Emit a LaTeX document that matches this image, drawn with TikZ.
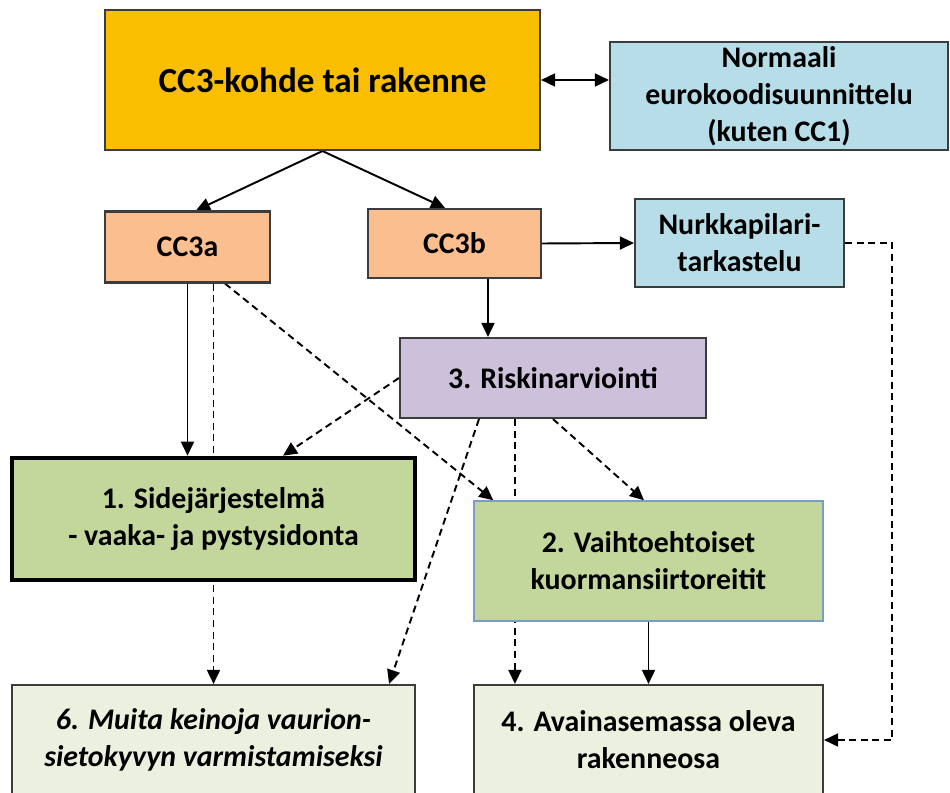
\documentclass[tikz,border=0pt]{standalone}
\usepackage{fontspec}
\setmainfont{Carlito}
\usepackage{tikz}
\usetikzlibrary{arrows.meta, positioning, backgrounds}
\definecolor{cckohde}{RGB}{250,190,0}
\definecolor{ccblue}{RGB}{183,222,232}
\definecolor{ccpeach}{RGB}{251,191,143}
\definecolor{cclilac}{RGB}{204,192,218}
\definecolor{ccgreen}{RGB}{195,214,155}
\definecolor{ccpale}{RGB}{235,241,222}
\definecolor{ccframe}{RGB}{60,60,60}
\definecolor{ccedge}{RGB}{120,158,200}

\begin{document}
\begin{tikzpicture}[
  >={Triangle[length=8pt,width=7.4pt]},
  box/.style={
    rectangle, draw=ccframe, line width=1.2pt,
    align=center, inner sep=0pt,
    font=\fontsize{17}{21}\selectfont\bfseries
  },
  arrow/.style={->, line width=1.1pt, black},
  dasharrow/.style={arrow, dash pattern=on 4pt off 2.6pt}
]
\useasboundingbox (0,0) rectangle (19,-15.86);

\node[box, fill=cckohde, minimum width=8.7cm, minimum height=2.8cm,
      font=\fontsize{20}{24}\selectfont\bfseries]
  (kohde) at (6.45,-1.6) {CC3-kohde tai rakenne};
\node[box, fill=ccblue, minimum width=6.76cm, minimum height=2.16cm]
  (norm) at (15.58,-1.92) {Normaali\\eurokoodisuunnittelu\\(kuten CC1)};

\node[box, fill=ccpeach, minimum width=3.3cm, minimum height=1.42cm]
  (cc3a) at (3.75,-4.94) {CC3a};
\node[box, fill=ccpeach, minimum width=3.46cm, minimum height=1.38cm]
  (cc3b) at (9.09,-4.87) {CC3b};
\node[box, fill=ccblue, minimum width=4.18cm, minimum height=1.76cm]
  (nurkka) at (14.79,-4.86) {Nurkkapilari-\\tarkastelu};

\node[box, fill=cclilac, minimum width=6.12cm, minimum height=1.6cm]
  (riski) at (11.06,-7.56) {3. Riskinarviointi};

\node[box, fill=ccgreen, draw=black, line width=2.6pt,
      minimum width=8.06cm, minimum height=2.44cm]
  (side) at (4.27,-10.38) {1. Sidejärjestelmä\\- vaaka- ja pystysidonta};
\node[box, fill=ccgreen, draw=ccedge, line width=0.8pt,
      minimum width=6.98cm, minimum height=2.4cm]
  (reitit) at (12.97,-11.22) {2. Vaihtoehtoiset\\kuormansiirtoreitit};

\node[box, fill=ccpale, minimum width=8.06cm, minimum height=2.2cm,
      font=\fontsize{17}{21}\selectfont\bfseries\itshape]
  (keinot) at (4.27,-14.8) {6. Muita keinoja vaurion-\\sietokyvyn varmistamiseksi};
\node[box, fill=ccpale, minimum width=6.98cm, minimum height=2.2cm]
  (avain) at (12.97,-14.8) {4. Avainasemassa oleva\\rakenneosa};

\coordinate (vx) at ([xshift=0.84cm]avain.north west);

\begin{scope}[on background layer]
\draw[arrow, <->] (kohde.east) -- (kohde.east -| norm.west);
\draw[arrow] (kohde.south) -- ([xshift=0.17cm]cc3a.north);
\draw[arrow] (kohde.south) -- ([xshift=-0.19cm]cc3b.north);
\draw[arrow] (cc3b.east) -- (nurkka.west);
\draw[arrow] ([xshift=0.67cm]cc3b.south) -- ([xshift=0.67cm]cc3b.south |- riski.north);
\draw[arrow] (cc3a.south) -- (cc3a.south |- side.north);
\draw[dasharrow] (keinot.north |- cc3a.south) -- (keinot.north);
\draw[dasharrow] ([xshift=0.75cm]cc3a.south) -- ([xshift=0.4cm]reitit.north west);
\draw[dasharrow] (riski.west) -- ([xshift=1.39cm]side.north);
\draw[dasharrow] ([xshift=-1.48cm]riski.south) -- ([xshift=-0.54cm]keinot.north east);
\draw[dasharrow] (vx |- riski.south) -- (vx);
\draw[dasharrow] (riski.south) -- ([xshift=-0.09cm]reitit.north);
\draw[arrow] (reitit.south) -- (avain.north);
\draw[dasharrow] (nurkka.east) -- ++(0.94,0) |- (avain.east);
\end{scope}

\end{tikzpicture}
\end{document}
